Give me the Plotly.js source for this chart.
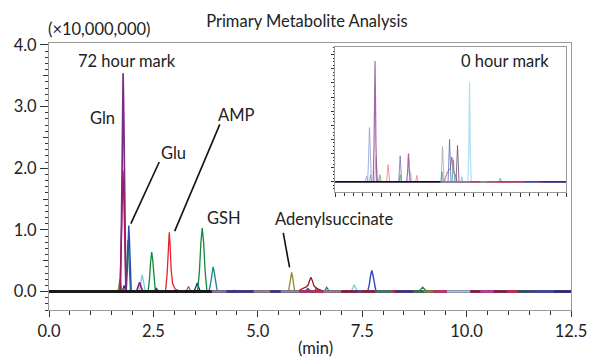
<!DOCTYPE html>
<html><head><meta charset="utf-8">
<script src="https://cdn.plot.ly/plotly-3.0.1.min.js"></script>
<style>html,body{margin:0;padding:0;background:#fff}#chart{width:589px;height:359px}</style>
</head><body><div id="chart"></div>
<script>
// ===== Main chromatogram (72 hour mark), time in min, intensity in x10,000,000 =====
const glnT = [0, 1.71, 1.736, 1.757, 1.775, 1.793, 1.814, 1.84, 2.095, 2.135, 2.17, 2.205, 2.245, 12.5];
const glnV = [0, 0, 1.13, 2.75, 3.54, 2.75, 1.13, 0, 0, 0.075, 0.15, 0.075, 0, 0];
const magT = [0, 1.695, 1.725, 1.749, 1.77, 1.791, 1.815, 1.845, 12.5];
const magV = [0, 0, 0.63, 1.53, 1.96, 1.53, 0.63, 0, 0];
const bluT = [0, 1.85, 1.874, 1.893, 1.91, 1.927, 1.946, 1.97, 6.13, 6.165, 6.2, 6.235, 6.27, 7.63, 7.67, 7.702, 7.73, 7.758, 7.79, 7.83, 12.5];
const bluV = [0, 0, 0.34, 0.83, 1.07, 0.83, 0.34, 0, 0, 0.025, 0.05, 0.025, 0, 0, 0.11, 0.265, 0.34, 0.265, 0.11, 0, 0];
const grnT = [0, 1.83, 1.854, 1.873, 1.89, 1.907, 1.926, 1.95, 2.372, 2.407, 2.435, 2.46, 2.485, 2.513, 2.548, 3.557, 3.602, 3.638, 3.67, 3.702, 3.738, 3.783, 8.85, 8.9, 8.95, 9.0, 9.05, 12.5];
const grnV = [0, 0, 0.27, 0.65, 0.83, 0.65, 0.27, 0, 0, 0.205, 0.5, 0.64, 0.5, 0.205, 0, 0, 0.33, 0.80, 1.03, 0.80, 0.33, 0, 0, 0.035, 0.07, 0.035, 0, 0];
const olvT = [0, 1.65, 1.676, 1.70, 1.724, 1.75, 5.735, 5.765, 5.789, 5.81, 5.831, 5.855, 5.885, 12.5];
const olvV = [0, 0, 0.1, 0.2, 0.1, 0, 0, 0.1, 0.24, 0.31, 0.24, 0.1, 0, 0];
const cyaT = [0, 2.155, 2.185, 2.209, 2.23, 2.251, 2.275, 2.305, 7.235, 7.275, 7.31, 7.345, 7.385, 12.5];
const cyaV = [0, 0, 0.086, 0.21, 0.27, 0.21, 0.086, 0, 0, 0.055, 0.11, 0.055, 0, 0];
const redT = [0, 2.79, 2.83, 2.858, 2.88, 2.9, 2.925, 2.96, 3.02, 3.12, 3.25, 4.38, 4.43, 4.48, 12.5];
const redV = [0, 0, 0.3, 0.75, 0.96, 0.75, 0.35, 0.13, 0.04, 0.01, 0, 0, 0.02, 0, 0];
const navT = [0, 1.76, 1.78, 1.80, 1.82, 1.84, 2.52, 2.545, 2.57, 2.595, 2.62, 3.475, 3.515, 3.55, 3.585, 3.625, 12.5];
const navV = [0, 0, 0.05, 0.1, 0.05, 0, 0, 0.025, 0.05, 0.025, 0, 0, 0.07, 0.14, 0.07, 0, 0];
const tealT = [0, 3.83, 3.87, 3.902, 3.93, 3.958, 3.99, 4.03, 6.35, 6.38, 6.41, 6.44, 6.47, 6.59, 6.62, 6.65, 6.68, 6.71, 12.5];
const tealV = [0, 0, 0.13, 0.31, 0.40, 0.31, 0.13, 0, 0, 0.03, 0.06, 0.03, 0, 0, 0.035, 0.07, 0.035, 0, 0];
const drdT = [0, 5.95, 6.05, 6.15, 6.2, 6.235, 6.27, 6.305, 6.34, 6.4, 6.5, 6.6, 12.5];
const drdV = [0, 0, 0.04, 0.07, 0.1, 0.18, 0.23, 0.18, 0.1, 0.05, 0.02, 0, 0];
const pnkT = [0, 3.28, 3.31, 3.34, 3.37, 3.40, 12.5];
const pnkV = [0, 0, 0.04, 0.08, 0.04, 0, 0];

// baseline pieces after 3.9 min (start, end)
const baseStart = [3.9, 4.25, 4.9, 5.3, 5.55, 6.0, 6.57, 7.0, 7.37, 7.49, 7.81, 8.21, 8.29, 8.73, 8.97, 9.21, 9.53, 10.09, 10.33, 10.65, 10.97, 11.21, 11.61, 12.09];
const baseEnd   = [4.25, 4.9, 5.3, 5.55, 6.0, 6.57, 7.0, 7.37, 7.49, 7.81, 8.21, 8.29, 8.73, 8.97, 9.21, 9.53, 10.09, 10.33, 10.65, 10.97, 11.21, 11.61, 12.09, 12.5];

// ===== Inset chromatogram (0 hour mark), arbitrary units =====
const iPerT = [0, 1.62, 1.66, 1.70, 1.74, 1.76, 1.8, 1.835, 1.86, 1.885, 1.92, 1.96, 12.5];
const iPerV = [0, 0, 0.2, 0.4, 0.2, 0, 1.2, 3.0, 3.84, 3.0, 1.2, 0, 0];
const iPurT = [0, 2.06, 2.11, 2.14, 2.16, 2.18, 2.21, 2.26, 3.87, 3.92, 3.95, 3.97, 3.99, 4.02, 4.07, 12.5];
const iPurV = [0, 0, 2.7, 6.7, 8.55, 6.7, 2.7, 0, 0, 0.64, 1.56, 2.0, 1.56, 0.64, 0, 0];
const iLpuT = [0, 2.14, 2.18, 2.22, 2.26, 2.3, 12.5];
const iLpuV = [0, 0, 0.9, 1.8, 0.9, 0, 0];
const iGrnT = [0, 1.86, 1.89, 1.92, 1.95, 1.98, 2.37, 2.4, 2.43, 2.46, 2.49, 3.46, 3.49, 3.52, 3.55, 3.58, 8.87, 8.9, 8.93, 8.96, 8.99, 12.5];
const iGrnV = [0, 0, 0.25, 0.5, 0.25, 0, 0, 0.25, 0.5, 0.25, 0, 0, 0.25, 0.5, 0.25, 0, 0, 0.12, 0.25, 0.12, 0, 0];
const iSalT = [0, 2.79, 2.83, 2.87, 2.91, 2.95, 4.36, 4.39, 4.42, 4.45, 4.48, 12.5];
const iSalV = [0, 0, 0.6, 1.21, 0.6, 0, 0, 0.22, 0.45, 0.22, 0, 0];
const iBpuT = [0, 3.44, 3.48, 3.52, 3.56, 3.6, 12.5];
const iBpuV = [0, 0, 0.9, 1.84, 0.9, 0, 0];
const iCyaT = [0, 4.0, 4.04, 4.08, 4.12, 4.16, 7.18, 7.23, 7.255, 7.27, 7.285, 7.31, 7.36, 12.5];
const iCyaV = [0, 0, 0.37, 0.74, 0.37, 0, 0, 2.2, 5.5, 7.05, 5.5, 2.2, 0, 0];
const iGryT = [0, 2.26, 2.3, 2.34, 5.73, 5.77, 5.81, 5.85, 5.89, 6.8, 6.85, 6.9, 12.5];
const iGryV = [0, 0, 0.3, 0, 0, 1.26, 2.52, 1.26, 0, 0, 0.35, 0, 0];
const iBluT = [0, 6.11, 6.15, 6.19, 6.23, 6.27, 12.5];
const iBluV = [0, 0, 1.5, 3.0, 1.5, 0, 0];
const iBrnT = [0, 5.9, 6.05, 6.15, 6.23, 6.27, 6.31, 6.35, 6.39, 6.5, 6.6, 12.5];
const iBrnV = [0, 0, 0.6, 0.85, 0.9, 1.3, 1.76, 1.3, 0.8, 0.5, 0, 0];
const iTelT = [0, 5.72, 5.75, 5.78, 5.81, 5.84, 6.33, 6.37, 6.40, 6.43, 6.47, 12.5];
const iTelV = [0, 0, 0.35, 0.7, 0.35, 0, 0, 0.8, 1.57, 0.8, 0, 0];
const iDpuT = [0, 6.54, 6.58, 6.62, 6.66, 6.7, 12.5];
const iDpuV = [0, 0, 1.3, 2.57, 1.3, 0, 0];
const iBaseStart = [5.7, 7.3, 7.85, 8.2, 8.8, 10.2, 11.0, 11.3];
const iBaseEnd   = [7.3, 7.85, 8.2, 8.8, 10.2, 11.0, 11.3, 12.5];

// ===== Tick labels =====
const xTicks = [0, 2.5, 5, 7.5, 10, 12.5];
const xTickText = ['0.0', '2.5', '5.0', '7.5', '10.0', '12.5'];
const yTicks = [0, 1, 2, 3, 4];
const yTickText = ['0.0', '1.0', '2.0', '3.0', '4.0'];
const yHalfTicks = [0.5, 1.5, 2.5, 3.5];

// ===== styles =====
const baseColors = ['#7a7f9a', '#2b3a86', '#8a8a8a', '#2b3a86', '#7f9490', '#c0304a', '#8a8a8a', '#8c1b2b', '#2b4db3', '#8c1b2b', '#2a8a5a', '#e8202b', '#2b3a86', '#11893d', '#8b8a2c', '#d03060', '#8fd0e0', '#8c1b2b', '#c040a0', '#8c1b2b', '#e8202b', '#1a5a6a', '#2b4db3', '#1f2b7d'];
const iBaseColors = ['#8a7a9a', '#c04050', '#7a9a7a', '#c05060', '#d03050', '#3050b0', '#8c1b2b', '#1f2b7d'];

const traces = [];
function line(x, y, color, w, axes, opacity) {
  traces.push({x: x, y: y, type: 'scatter', mode: 'lines', line: {color: color, width: w},
    opacity: opacity || 1, xaxis: axes[0], yaxis: axes[1], hoverinfo: 'skip', showlegend: false});
}
const M = ['x', 'y'], I = ['x2', 'y2'];

// main peaks
line(cyaT, cyaV, '#79cde3', 1.3, M);
line(pnkT, pnkV, '#c8409c', 1.3, M);
line(tealT, tealV, '#15888c', 1.3, M);
line(drdT, drdV, '#8c1b2b', 1.3, M);
line(olvT, olvV, '#8b8a2c', 1.3, M);
line(navT, navV, '#1f2b7d', 1.3, M);
line(redT, redV, '#e8202b', 1.3, M);
line(grnT, grnV, '#11893d', 1.3, M);
line(bluT, bluV, '#2b4db3', 1.4, M);
line(glnT, glnV, '#7d2b8b', 1.7, M);
line(magT, magV, '#a21a6a', 1.4, M);
// main baseline on top
line([0, 3.9], [0, 0], '#1a1a1a', 3, M);
baseStart.forEach((s, i) => line([s, baseEnd[i]], [0, 0], baseColors[i], 2.2, M));
// half-unit tick carrier
traces.push({x: [0], y: [0], type: 'scatter', mode: 'lines', xaxis: 'x', yaxis: 'y3', line: {width: 0}, hoverinfo: 'skip', showlegend: false});

// inset
line(iGrnT, iGrnV, '#5aaa7a', 1, I, 0.8);
line(iSalT, iSalV, '#f07c84', 1, I, 0.8);
line(iGryT, iGryV, '#a8a8a8', 1, I, 0.8);
line(iTelT, iTelV, '#4a9aa0', 1, I, 0.8);
line(iBrnT, iBrnV, '#b04a55', 1, I, 0.8);
line(iBpuT, iBpuV, '#6f6fb0', 1, I, 0.8);
line(iLpuT, iLpuV, '#b693c6', 1, I, 0.8);
line(iBluT, iBluV, '#5a6ab5', 1, I, 0.8);
line(iDpuT, iDpuV, '#6a4a7a', 1, I, 0.8);
line(iPerT, iPerV, '#8d9dd2', 1, I, 0.8);
line(iCyaT, iCyaV, '#a6dde9', 1.2, I, 0.9);
line(iPurT, iPurV, '#9a58a0', 1.2, I, 0.9);
line([0, 5.7], [0, 0], '#111', 1.5, I);
iBaseStart.forEach((s, i) => line([s, iBaseEnd[i]], [0, 0], iBaseColors[i], 1.5, I));

const FONT = 'Lato, "Noto Sans", sans-serif';
const FS = 16.5;
const frame = '#9a9a9a';
const layout = {
  width: 589, height: 359,
  margin: {l: 49, r: 18, t: 43, b: 49},
  paper_bgcolor: '#fff', plot_bgcolor: '#fff',
  font: {family: FONT, size: FS, color: '#222'},
  showlegend: false,
  title: {text: 'Primary Metabolite Analysis', x: 0.521, xanchor: 'center', xref: 'container',
          y: 0.94, yanchor: 'middle', yref: 'container', font: {family: FONT, size: FS, color: '#222'}},
  xaxis: {domain: [0, 1], range: [0, 12.5], tickvals: xTicks, ticktext: xTickText, ticks: 'outside',
          ticklen: 6, tickwidth: 1, tickcolor: '#333', minor: {dtick: 0.5, tick0: 0, ticklen: 4, tickcolor: '#333', ticks: 'outside'},
          showline: true, linecolor: frame, linewidth: 1, mirror: true, showgrid: false, zeroline: false,
          tickfont: {size: FS, color: '#222'}, anchor: 'y'},
  yaxis: {domain: [0, 1], range: [-0.3, 4.03], tickvals: yTicks, ticktext: yTickText, ticks: 'outside',
          ticklen: 8, tickwidth: 1, tickcolor: '#333', minor: {dtick: 0.1, tick0: 0, ticklen: 3.5, tickcolor: '#333', ticks: 'outside'},
          showline: true, linecolor: frame, linewidth: 1, mirror: true, showgrid: false, zeroline: false,
          tickfont: {size: FS, color: '#222'}, anchor: 'x'},
  yaxis3: {overlaying: 'y', range: [-0.3, 4.03], tickvals: yHalfTicks, ticks: 'outside', ticklen: 5.5, tickcolor: '#333',
           showticklabels: false, showline: false, showgrid: false, zeroline: false, side: 'left', anchor: 'x'},
  xaxis2: {domain: [0.548, 0.991], range: [0, 12.5], anchor: 'y2', dtick: 2.5, tick0: 0, ticks: 'outside', ticklen: 4.5,
           tickcolor: '#333', minor: {dtick: 0.5, tick0: 0, ticklen: 3, tickcolor: '#333', ticks: 'outside'},
           showticklabels: false, showline: true, linecolor: frame, linewidth: 1, mirror: true, showgrid: false, zeroline: false},
  yaxis2: {domain: [0.4425, 0.986], range: [-0.714, 9.57], anchor: 'x2', dtick: 1, tick0: 0, ticks: 'outside', ticklen: 3,
           tickcolor: '#333', minor: {dtick: 0.25, tick0: 0, ticklen: 1.5, tickcolor: '#333', ticks: 'outside'},
           showticklabels: false, showline: true, linecolor: frame, linewidth: 1, mirror: true, showgrid: false, zeroline: false},
  annotations: [
    {text: '(×10,000,000)', xref: 'paper', yref: 'paper', x: 0.0967, y: 1.052, xanchor: 'center', yanchor: 'middle', showarrow: false},
    {text: '(min)', xref: 'paper', yref: 'paper', x: 0.5096, y: -0.187, xanchor: 'center', yanchor: 'bottom', showarrow: false},
    {text: '72 hour mark', xref: 'x', yref: 'y', x: 1.875, y: 3.74, xanchor: 'center', yanchor: 'middle', showarrow: false},
    {text: 'Gln', xref: 'x', yref: 'y', x: 1.29, y: 2.81, xanchor: 'center', yanchor: 'middle', showarrow: false},
    {text: 'Glu', xref: 'x', yref: 'y', x: 2.99, y: 2.245, xanchor: 'center', yanchor: 'middle', showarrow: false},
    {text: 'AMP', xref: 'x', yref: 'y', x: 4.48, y: 2.86, xanchor: 'center', yanchor: 'middle', showarrow: false},
    {text: 'GSH', xref: 'x', yref: 'y', x: 4.19, y: 1.19, xanchor: 'center', yanchor: 'middle', showarrow: false},
    {text: 'Adenylsuccinate', xref: 'x', yref: 'y', x: 6.83, y: 1.17, xanchor: 'center', yanchor: 'middle', showarrow: false},
    {text: '0 hour mark', xref: 'x2', yref: 'y2', x: 9.2, y: 8.55, xanchor: 'center', yanchor: 'middle', showarrow: false}
  ],
  shapes: [
    {type: 'line', xref: 'x', yref: 'y', x0: 2.64, y0: 2.10, x1: 1.96, y1: 1.10, line: {color: '#111', width: 1.6}},
    {type: 'line', xref: 'x', yref: 'y', x0: 4.09, y0: 2.71, x1: 3.01, y1: 0.98, line: {color: '#111', width: 1.6}},
    {type: 'line', xref: 'x', yref: 'y', x0: 5.61, y0: 0.95, x1: 5.76, y1: 0.39, line: {color: '#111', width: 1.6}}
  ]
};
Plotly.newPlot('chart', traces, layout, {staticPlot: true, displayModeBar: false});
</script></body></html>
